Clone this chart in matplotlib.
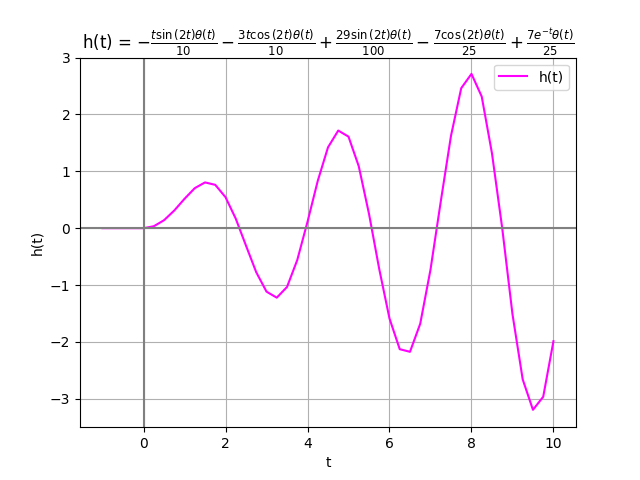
import matplotlib
matplotlib.use("Agg")
import matplotlib.pyplot as plt

# values
t_vals = [-1.0, -0.75, -0.5, -0.25, 0.0, 0.25, 0.5, 0.75, 1.0, 1.25, 1.5, 1.75,
          2.0, 2.25, 2.5, 2.75, 3.0, 3.25, 3.5, 3.75, 4.0, 4.25, 4.5, 4.75,
          5.0, 5.25, 5.5, 5.75, 6.0, 6.25, 6.5, 6.75, 7.0, 7.25, 7.5, 7.75,
          8.0, 8.25, 8.5, 8.75, 9.0, 9.25, 9.5, 9.75, 10.0]
h_vals = [0.0, 0.0, 0.0, 0.0, 0.0, 0.034, 0.140, 0.311, 0.517, 0.704, 0.805, 0.762,
          0.545, 0.167, -0.308, -0.776, -1.116, -1.222, -1.034, -0.560, 0.112, 0.832,
          1.422, 1.717, 1.610, 1.090, 0.253, -0.719, -1.588, -2.128, -2.174, -1.680,
          -0.731, 0.465, 1.623, 2.462, 2.714, 2.315, 1.317, 0.001, -1.510, -2.660,
          -3.194, -2.965, -1.987]

TITLE = (r"h(t) = $- \frac{t \sin{\left(2 t \right)} \theta\left(t \right)}{10}"
         r" - \frac{3 t \cos{\left(2 t \right)} \theta\left(t \right)}{10}"
         r" + \frac{29 \sin{\left(2 t \right)} \theta\left(t \right)}{100}"
         r" - \frac{7 \cos{\left(2 t \right)} \theta\left(t \right)}{25}"
         r" + \frac{7 e^{- t} \theta\left(t \right)}{25}$")

fig, ax = plt.subplots(figsize=(6.4, 4.8), dpi=100)
ax.plot(t_vals, h_vals, color="magenta", label="h(t)")
ax.axhline(0, color="gray")
ax.axvline(0, color="gray")
ax.set_ylim(-3.5, 3)
ax.set_xlabel("t")
ax.set_ylabel("h(t)")
ax.set_title(TITLE)
ax.grid(True)
ax.legend(loc="upper right")
fig.savefig("out.png")
